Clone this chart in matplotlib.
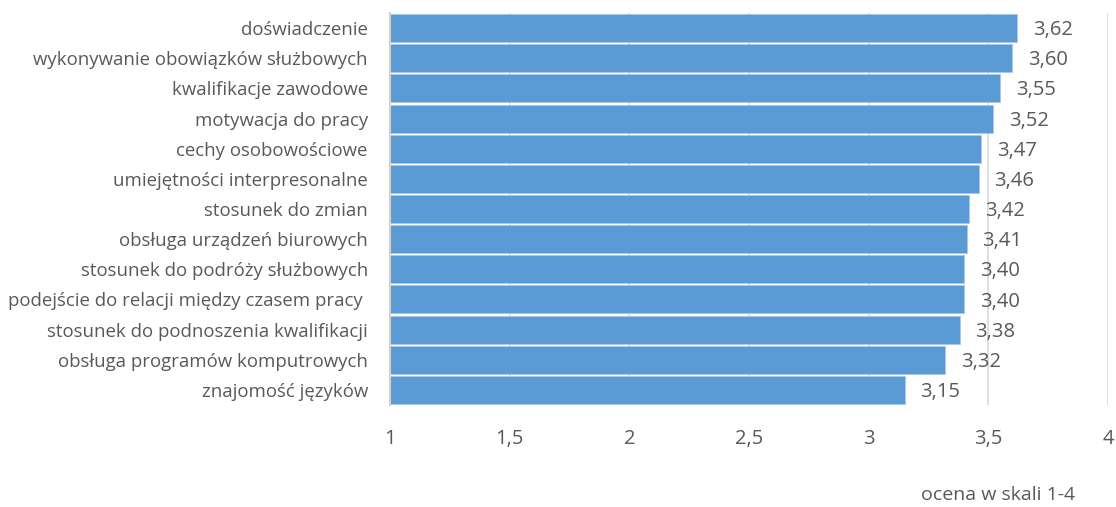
import matplotlib
matplotlib.use("Agg")
import matplotlib.pyplot as plt

labels = ["doświadczenie", "wykonywanie obowiązków służbowych", "kwalifikacje zawodowe",
          "motywacja do pracy", "cechy osobowościowe", "umiejętności interpresonalne",
          "stosunek do zmian", "obsługa urządzeń biurowych", "stosunek do podróży służbowych",
          "podejście do relacji między czasem pracy ", "stosunek do podnoszenia kwalifikacji",
          "obsługa programów komputrowych", "znajomość języków"]
values = [3.62, 3.60, 3.55, 3.52, 3.47, 3.46, 3.42, 3.41, 3.40, 3.40, 3.38, 3.32, 3.15]
xticks = [1, 1.5, 2, 2.5, 3, 3.5, 4]
xtick_labels = ["1", "1,5", "2", "2,5", "3", "3,5", "4"]

plt.rcParams["font.family"] = ["Open Sans", "DejaVu Sans"]
TXT = "#595959"

fig = plt.figure(figsize=(11.16, 5.07), dpi=100)
ax = fig.add_axes([390/1116, 1-405/507, 718/1116, 392/507])

y = list(range(len(labels)))
ax.barh(y, [v - 1 for v in values], left=1, height=0.93, color="#5B9BD5",
        edgecolor="#A9C8EA", linewidth=0.6, zorder=2)
for yi, v in zip(y, values):
    ax.text(v + 0.065, yi + 0.07, f"{v:.2f}".replace(".", ","), va="center", ha="left",
            fontsize=14.5, color=TXT)

ax.set_xlim(1, 4)
ax.set_ylim(len(labels) - 0.5, -0.5)
ax.set_yticks(y)
ax.set_yticklabels(labels, fontsize=13.4, color=TXT)
ax.set_xticks(xticks)
ax.set_xticklabels(xtick_labels, fontsize=14.5, color=TXT)
ax.tick_params(axis="both", length=0)
ax.tick_params(axis="y", pad=16)
ax.tick_params(axis="x", pad=17)
ax.grid(axis="x", color="#D9D9D9", linewidth=1.2, zorder=0)
ax.set_axisbelow(True)
for s in ["top", "right", "bottom"]:
    ax.spines[s].set_visible(False)
ax.spines["left"].set_color("#D0D0D0")
ax.spines["left"].set_linewidth(1.5)

fig.text(1075/1116, 1-495/507, "ocena w skali 1-4", ha="right", va="center",
         fontsize=14, color=TXT)

fig.savefig("out.png", dpi=100)
